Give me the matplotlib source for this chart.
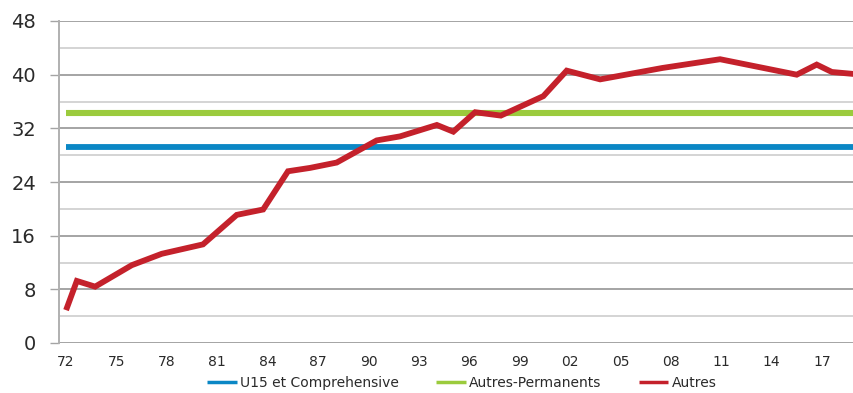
import numpy as np
import matplotlib.pyplot as plt

# series
u15_level = 29.15
permanents_level = 34.3
line_start, line_end = 1972.0, 2019.0

autres_years = [1972.0, 1972.64, 1973.73, 1975.91, 1977.70, 1980.15, 1982.16,
                1983.73, 1985.21, 1986.52, 1988.11, 1990.49, 1991.88, 1994.07,
                1995.05, 1996.35, 1997.88, 2000.41, 2001.80, 2003.79, 2007.5,
                2010.93, 2015.49, 2016.68, 2017.58, 2018.9]
autres_values = [4.9, 9.25, 8.4, 11.6, 13.3, 14.7, 19.1,
                 19.9, 25.6, 26.1, 26.9, 30.2, 30.8, 32.5,
                 31.5, 34.4, 33.9, 36.8, 40.6, 39.3, 41.0,
                 42.3, 40.0, 41.5, 40.4, 40.1]

xtick_years = list(range(1972, 2018, 3))
yticks_major = list(range(0, 49, 8))
yticks_minor = list(range(4, 48, 8))

blue = '#0a87c5'
green = '#9bcb3d'
red = '#c4212b'
text_col = '#2a2a2a'

plt.rcParams['font.family'] = ['DejaVu Sans']

fig = plt.figure(figsize=(8.54, 3.93), dpi=100)
ax = fig.add_axes([59 / 854, 1 - 343 / 393, 1 - 59 / 854, (343 - 21) / 393])

# gridlines
for v in yticks_minor:
    ax.axhline(v, color='#d4d4d4', lw=1.4, zorder=1)
for v in yticks_major:
    ax.axhline(v, color='#a4a4a4', lw=1.4, zorder=1)

ax.plot([line_start, line_end], [u15_level, u15_level], color=blue, lw=4.2,
        solid_capstyle='butt', zorder=3, label='U15 et Comprehensive')
ax.plot([line_start, line_end], [permanents_level, permanents_level], color=green,
        lw=4.4, solid_capstyle='butt', zorder=3, label='Autres-Permanents')
ax.plot(autres_years, autres_values, color=red, lw=4.2, solid_joinstyle='miter',
        solid_capstyle='butt', zorder=4, label='Autres')

ax.set_xlim(1971.58, 2018.9)
ax.set_ylim(0, 48)

ax.set_yticks(yticks_major)
ax.set_yticklabels([str(v) for v in yticks_major], fontsize=14, color=text_col)
ax.tick_params(axis='y', length=6.5, width=1, color='#a4a4a4', pad=10)

ax.set_xticks(xtick_years)
ax.set_xticklabels([f'{y % 100:02d}' for y in xtick_years], fontsize=10, color=text_col)
ax.tick_params(axis='x', length=0, pad=9)

for side in ['top', 'right', 'bottom']:
    ax.spines[side].set_visible(False)
ax.spines['left'].set_color('#b0b0b0')
ax.spines['left'].set_linewidth(1.4)

handles, labels = ax.get_legend_handles_labels()
leg = fig.legend(handles, labels, loc='center', bbox_to_anchor=(462 / 854, 1 - 383 / 393),
                 ncol=3, frameon=False, fontsize=10, handlelength=2.1,
                 handletextpad=0.25, columnspacing=2.7, labelcolor=text_col)
for line in leg.get_lines():
    line.set_linewidth(2.5)

fig.savefig('out.png', dpi=100)
